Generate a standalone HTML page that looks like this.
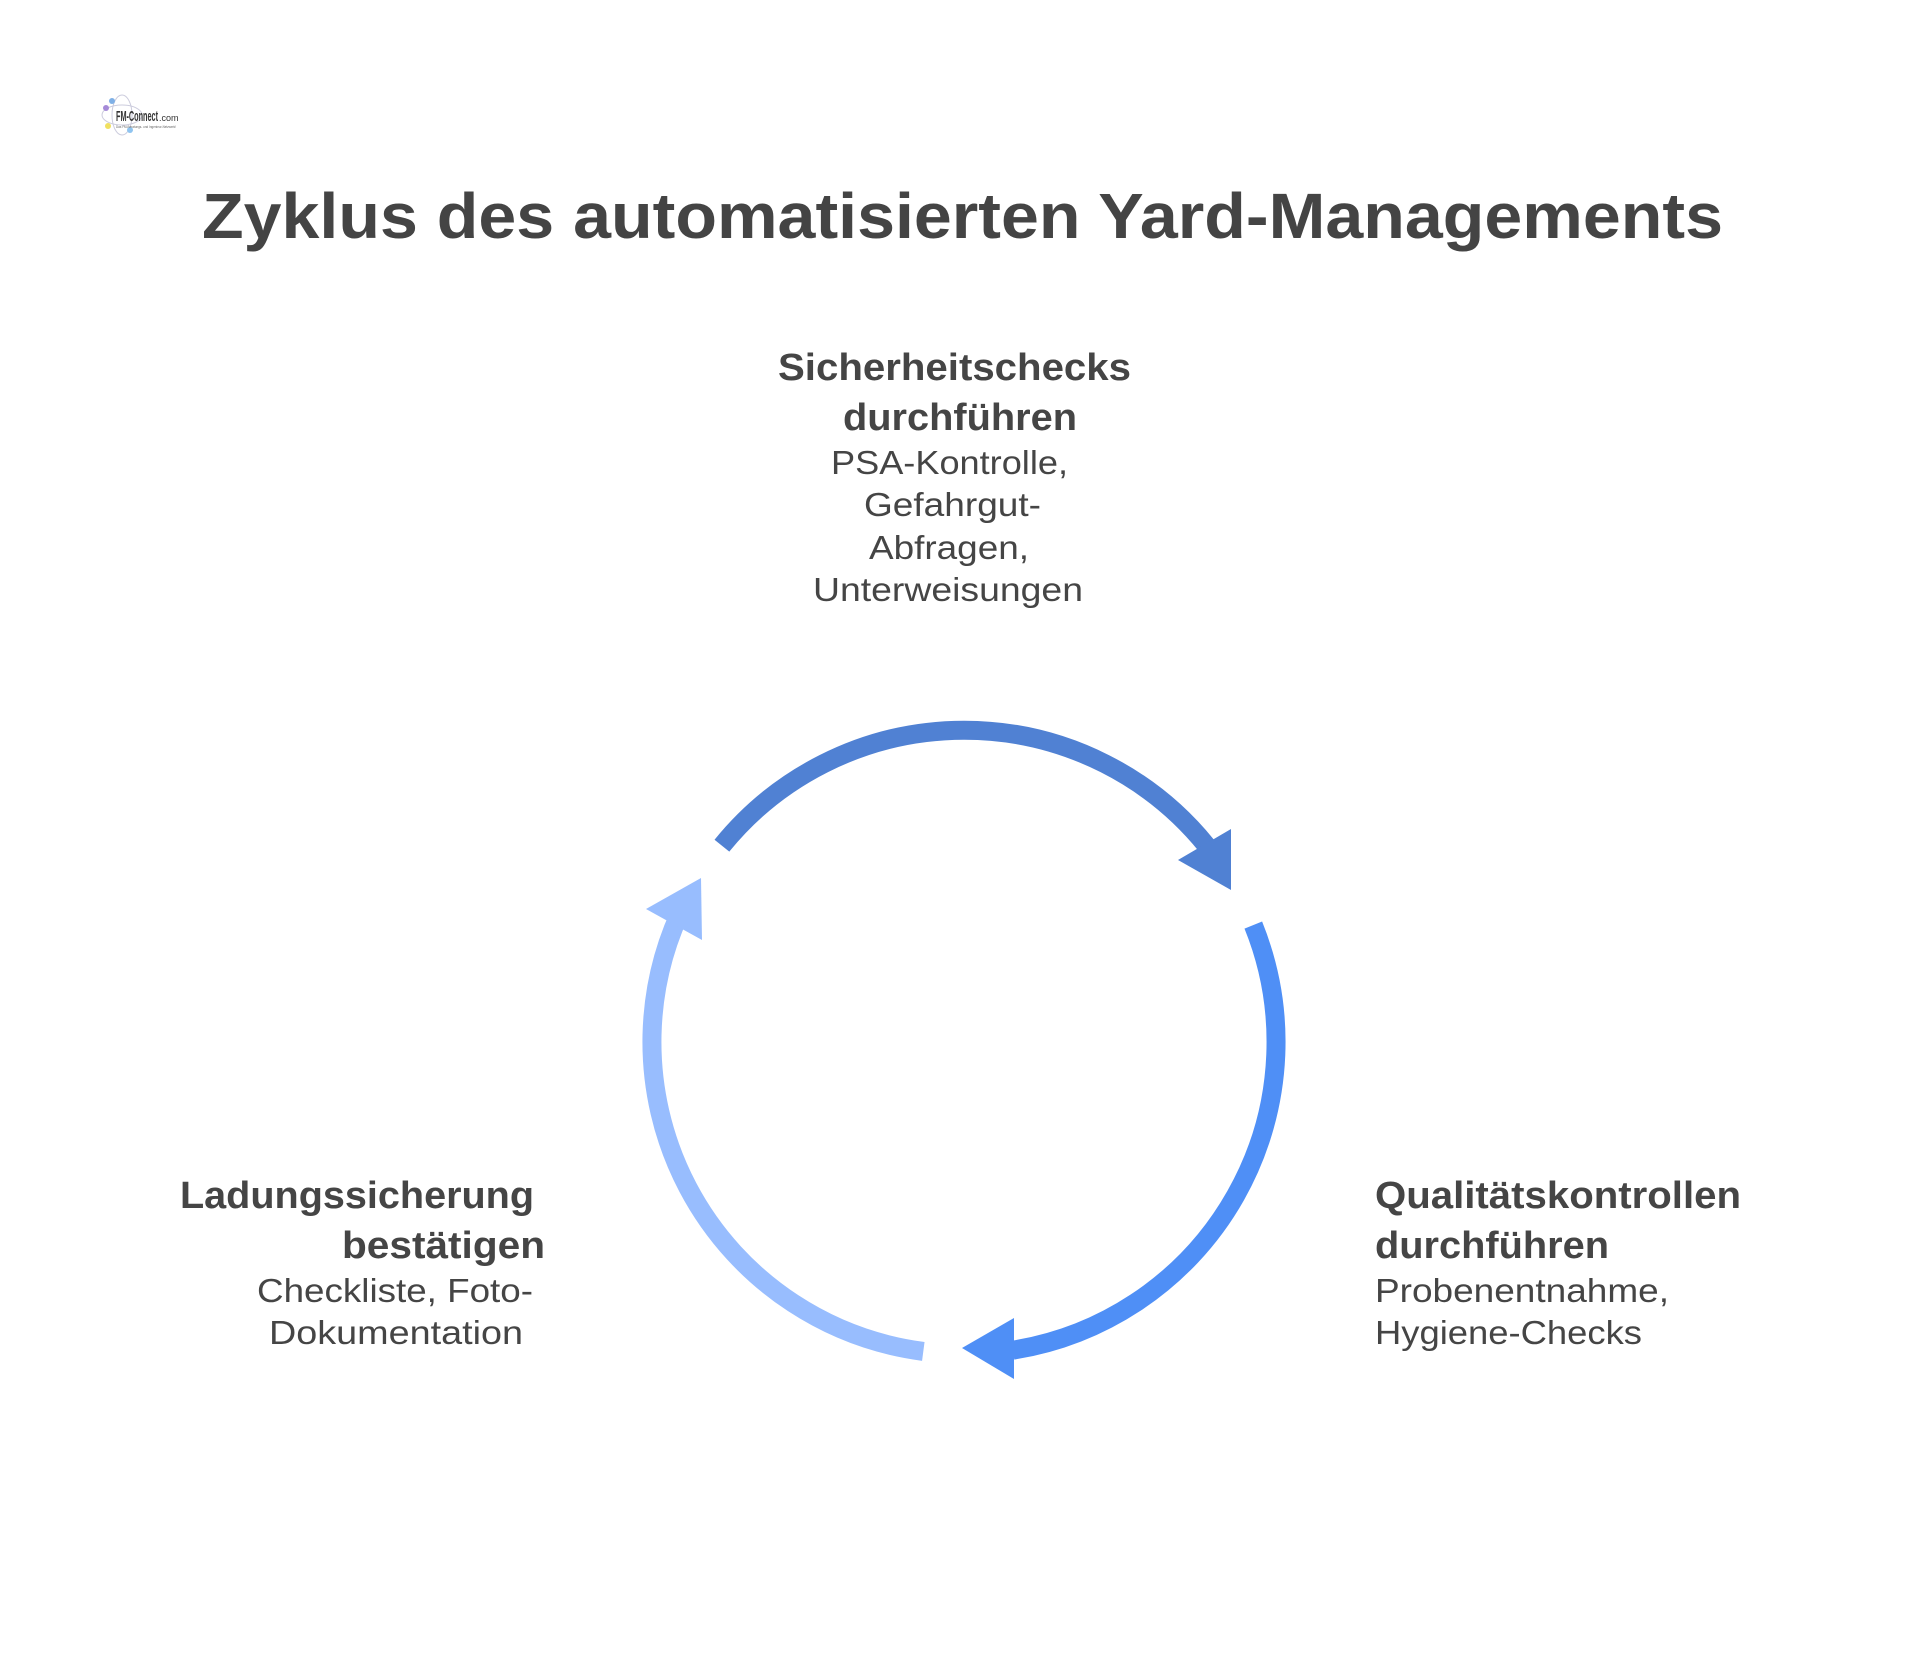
<!DOCTYPE html>
<html><head><meta charset="utf-8"><style>
html,body{margin:0;padding:0;background:#fff;}
svg{display:block;}
text{font-family:"Liberation Sans",sans-serif;fill:#454545;}
.b{font-weight:bold;font-size:38px;}
.n{font-size:33px;}
</style></head><body>
<svg width="1920" height="1653" viewBox="0 0 1920 1653" xmlns="http://www.w3.org/2000/svg">
<g>
<ellipse cx="122" cy="115" rx="20" ry="10" fill="none" stroke="#ccd" stroke-width="1"/>
<ellipse cx="122" cy="115" rx="10" ry="20" fill="none" stroke="#ccd" stroke-width="1"/>
<circle cx="106" cy="108" r="3" fill="#a58ad8"/>
<circle cx="112" cy="101" r="3" fill="#7fb0e6"/>
<circle cx="108" cy="126" r="3" fill="#f0e060"/>
<circle cx="130" cy="130" r="3" fill="#8fc4f0"/>
<text x="116" y="121" style="font-size:15px;font-weight:bold;fill:#333" textLength="42" lengthAdjust="spacingAndGlyphs">FM-Connect</text>
<text x="159" y="121" style="font-size:9px;fill:#333">.com</text>
<text x="116" y="128" style="font-size:4px;fill:#666" textLength="60" lengthAdjust="spacingAndGlyphs">Das FM-Beratungs- und Ingenieur-Netzwerk!</text>
</g>
<text x="202" y="238" style="font-size:64px;font-weight:bold;fill:#444" textLength="1521" lengthAdjust="spacingAndGlyphs">Zyklus des automatisierten Yard-Managements</text>

<g transform="translate(-5,-3)">
<text class="b" x="783" y="383" textLength="353" lengthAdjust="spacingAndGlyphs">Sicherheitschecks</text>
<text class="b" x="848" y="433" textLength="234" lengthAdjust="spacingAndGlyphs">durchführen</text>
<text class="n" x="836" y="477" textLength="237" lengthAdjust="spacingAndGlyphs">PSA-Kontrolle,</text>
<text class="n" x="869" y="519" textLength="177" lengthAdjust="spacingAndGlyphs">Gefahrgut-</text>
<text class="n" x="874" y="562" textLength="160" lengthAdjust="spacingAndGlyphs">Abfragen,</text>
<text class="n" x="818" y="604" textLength="270" lengthAdjust="spacingAndGlyphs">Unterweisungen</text>

<text class="b" x="185" y="1211" textLength="354" lengthAdjust="spacingAndGlyphs">Ladungssicherung</text>
<text class="b" x="347" y="1261" textLength="203" lengthAdjust="spacingAndGlyphs">bestätigen</text>
<text class="n" x="262" y="1305" textLength="276" lengthAdjust="spacingAndGlyphs">Checkliste, Foto-</text>
<text class="n" x="274" y="1347" textLength="254" lengthAdjust="spacingAndGlyphs">Dokumentation</text>

<text class="b" x="1380" y="1211" textLength="366" lengthAdjust="spacingAndGlyphs">Qualitätskontrollen</text>
<text class="b" x="1380" y="1261" textLength="234" lengthAdjust="spacingAndGlyphs">durchführen</text>
<text class="n" x="1380" y="1305" textLength="294" lengthAdjust="spacingAndGlyphs">Probenentnahme,</text>
<text class="n" x="1380" y="1347" textLength="267" lengthAdjust="spacingAndGlyphs">Hygiene-Checks</text>
</g>

<g fill="none" stroke-width="19">
  <path d="M 721.9 845.7 A 312 312 0 0 1 1206.5 845.6" stroke="#5081d3"/>
  <path d="M 1253.3 925.1 A 312 312 0 0 1 1012.8 1350.2" stroke="#4f8ff6"/>
  <path d="M 923.3 1351.4 A 312 312 0 0 1 686 900.3" stroke="#98bdfe"/>
</g>
<polygon points="1231,829 1178,860 1231,890" fill="#5081d3"/>
<polygon points="1014,1318 962,1348 1014,1379" fill="#4f8ff6"/>
<polygon points="701,878 646,909 702,940" fill="#98bdfe"/>
</svg>
</body></html>
